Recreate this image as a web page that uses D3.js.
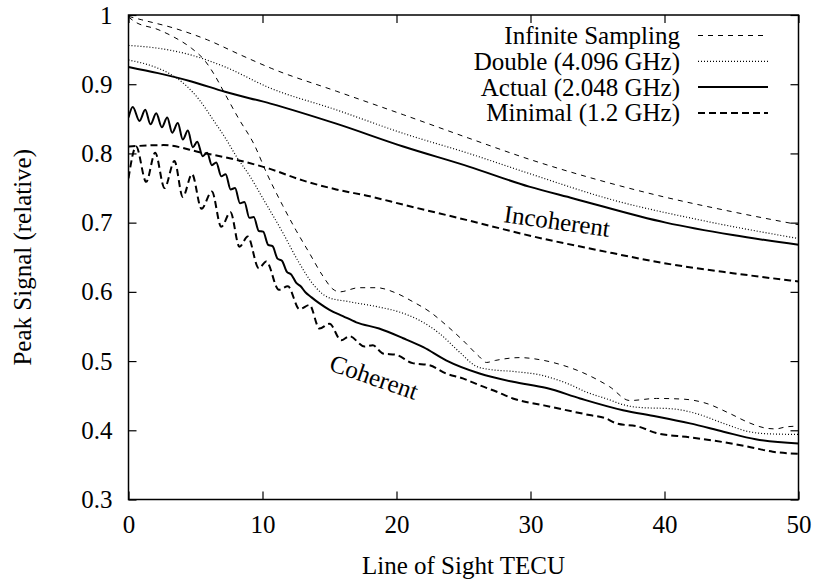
<!DOCTYPE html>
<html>
<head>
<meta charset="utf-8">
<script src="https://cdn.jsdelivr.net/npm/d3@7/dist/d3.min.js"></script>
</head>
<body style="margin:0;background:#fff">
<div id="chart"></div>
<script>

// ---- data: [TECU, peak signal] ----
const infiniteIncoherent = [[0,0.998],[1,0.993],[3.4,0.981],[5.9,0.964],[8.4,0.942],[10.65,0.923],[15.5,0.890],[20.5,0.856],[25.4,0.822],[30,0.791],[35,0.762],[40,0.737],[45,0.716],[50,0.697]];
const doubleIncoherent = [[0,0.956],[2.2,0.952],[4.7,0.942],[7.2,0.925],[10.5,0.895],[15.5,0.863],[20.5,0.829],[25.4,0.800],[29.9,0.771],[36.1,0.733],[42.6,0.704],[50,0.677]];
const actualIncoherent = [[0,0.925],[2.2,0.916],[4.7,0.904],[7.2,0.889],[10.6,0.872],[15.5,0.843],[20.5,0.810],[25.4,0.781],[29.9,0.752],[33.2,0.735],[40.1,0.700],[45.1,0.682],[50,0.668]];
const minimalIncoherent = [[0,0.810],[2.6,0.812],[5.5,0.801],[8,0.791],[10.5,0.778],[13,0.761],[15.5,0.748],[18,0.738],[20.5,0.726],[25.2,0.704],[30.2,0.680],[35.1,0.660],[40.1,0.641],[45.1,0.627],[50,0.615]];

const infiniteCoherent = [[0,0.997],[0.5,0.990],[2.2,0.979],[3.4,0.968],[4.7,0.952],[5.7,0.934],[6.4,0.914],[7.2,0.886],[8.2,0.851],[9.4,0.812],[10.3,0.772],[11.5,0.725],[12.5,0.689],[13.5,0.656],[14.5,0.623],[15.25,0.604],[15.75,0.600],[17.2,0.606],[18.5,0.606],[20,0.598],[21.2,0.586],[22.5,0.571],[23.7,0.552],[24.95,0.530],[26.2,0.506],[26.7,0.498],[27.4,0.501],[29.2,0.505],[30.7,0.502],[32.4,0.494],[33.7,0.485],[34.9,0.474],[35.9,0.463],[37.4,0.443],[39.4,0.446],[41.4,0.445],[43.1,0.439],[44.9,0.424],[46.3,0.411],[47.6,0.403],[48.3,0.402],[49.1,0.405],[50,0.406]];
const doubleCoherent = [[0,0.935],[1.8,0.926],[3.0,0.916],[4.3,0.898],[5.3,0.877],[6.3,0.849],[7.3,0.820],[8.1,0.794],[9.0,0.769],[10.0,0.736],[11.5,0.686],[12.7,0.643],[13.9,0.608],[14.9,0.592],[16.4,0.586],[18.7,0.578],[20.2,0.571],[21.7,0.559],[23.2,0.540],[24.7,0.513],[25.9,0.493],[26.9,0.488],[28.7,0.485],[30.7,0.480],[32.7,0.468],[34.2,0.455],[35.9,0.444],[36.9,0.437],[38.1,0.433],[40.6,0.431],[42.4,0.424],[44.4,0.410],[46.3,0.398],[47.6,0.395],[50,0.394]];
const actualCoherent = [[0,0.852],[0.32,0.867],[0.82,0.847],[1.25,0.863],[1.64,0.842],[2.07,0.858],[2.49,0.838],[2.89,0.852],[3.26,0.830],[3.68,0.844],[4.05,0.820],[4.43,0.833],[4.80,0.809],[5.13,0.817],[5.54,0.796],[5.87,0.801],[6.22,0.783],[6.55,0.787],[6.92,0.767],[7.25,0.770],[7.62,0.748],[7.95,0.750],[8.32,0.728],[8.65,0.730],[9.02,0.707],[9.35,0.708],[9.72,0.688],[10.05,0.687],[10.42,0.668],[10.75,0.666],[11.12,0.648],[11.45,0.645],[11.82,0.629],[12.15,0.625],[12.52,0.613],[12.85,0.608],[13.22,0.599],[13.6,0.593],[14.2,0.584],[15,0.574],[16,0.565],[17,0.556],[18.7,0.547],[20.5,0.533],[22,0.520],[23.7,0.501],[26.2,0.482],[28.7,0.470],[31.2,0.461],[33.7,0.446],[36.9,0.429],[39.4,0.420],[41.9,0.410],[44.4,0.398],[46.8,0.387],[50,0.381]];
const minimalCoherent = [[0,0.764],[0.57,0.810],[1.32,0.759],[1.99,0.801],[2.69,0.750],[3.43,0.789],[4.05,0.737],[4.74,0.770],[5.45,0.720],[6.22,0.745],[6.92,0.694],[7.61,0.715],[8.28,0.665],[8.9,0.680],[9.72,0.634],[10.28,0.644],[11.22,0.603],[11.89,0.608],[12.76,0.575],[13.51,0.581],[14.25,0.547],[15.0,0.554],[15.87,0.530],[16.49,0.536],[17.61,0.521],[18.23,0.523],[18.98,0.511],[19.98,0.509],[21.2,0.497],[22.46,0.494],[23.7,0.482],[24.95,0.475],[26.2,0.465],[27.44,0.456],[28.68,0.446],[31,0.436],[34.4,0.422],[35.65,0.417],[36.4,0.410],[38.13,0.405],[39.38,0.396],[41.87,0.390],[44.35,0.383],[46.34,0.376],[48.08,0.369],[50,0.366]];

const seriesNames = ["Infinite Sampling", "Double (4.096 GHz)", "Actual (2.048 GHz)", "Minimal (1.2 GHz)"];
const xTicks = [0, 10, 20, 30, 40, 50];
const yTicks = [0.3, 0.4, 0.5, 0.6, 0.7, 0.8, 0.9, 1];

// ---- layout ----
let svgWidth = 817, svgHeight = 580;
let margin = {top: 15, right: 18.5, bottom: 80.5, left: 128.5};
let fontSize = "25px";
let serif = '"Liberation Serif"';

let svg = d3.select("#chart").append("svg")
            .attr("width", svgWidth)
            .attr("height", svgHeight);

let xScale = d3.scaleLinear().domain([0, 50]).range([margin.left, svgWidth - margin.right]);
let yScale = d3.scaleLinear().domain([0.3, 1]).range([svgHeight - margin.bottom, margin.top]);

// line styles, same order as seriesNames
let styles = [
  {dash: "5,5", width: 1},
  {dash: "1,2", width: 1.2},
  {dash: null, width: 2},
  {dash: "7,4", width: 2}
];

// every text gets the Times-like face
function label(sel) {
  return sel.style("font-family", serif).style("font-size", fontSize).attr("fill", "#000");
}

// clip to the frame
svg.append("clipPath").attr("id", "plotClip")
   .append("rect")
   .attr("x", margin.left).attr("y", margin.top)
   .attr("width", xScale(50) - xScale(0))
   .attr("height", yScale(0.3) - yScale(1));

// axes: ticks point inward on all four sides
let tickLen = 8;
let xAxisB = d3.axisBottom(xScale).tickValues(xTicks).tickSize(-tickLen).tickPadding(16).tickFormat(d => d);
let yAxisL = d3.axisLeft(yScale).tickValues(yTicks).tickSize(-tickLen).tickPadding(16).tickFormat(d => d);
let xAxisT = d3.axisTop(xScale).tickValues(xTicks).tickSize(-tickLen).tickFormat("");
let yAxisR = d3.axisRight(yScale).tickValues(yTicks).tickSize(-tickLen).tickFormat("");

function styleAxis(g) {
  g.select(".domain").remove();
  g.selectAll(".tick line").attr("stroke", "#000").attr("stroke-width", 1.2);
  g.selectAll(".tick text").call(label);
}

svg.append("g").attr("transform", `translate(0,${yScale(0.3)})`).call(xAxisB).call(styleAxis);
svg.append("g").attr("transform", `translate(${xScale(0)},0)`).call(yAxisL).call(styleAxis);
svg.append("g").attr("transform", `translate(0,${yScale(1)})`).call(xAxisT).call(styleAxis);
svg.append("g").attr("transform", `translate(${xScale(50)},0)`).call(yAxisR).call(styleAxis);

// curves
let line = d3.line()
             .x(d => xScale(d[0]))
             .y(d => yScale(d[1]))
             .curve(d3.curveMonotoneX);

let coherentSets = [infiniteCoherent, doubleCoherent, actualCoherent, minimalCoherent];
let incoherentSets = [infiniteIncoherent, doubleIncoherent, actualIncoherent, minimalIncoherent];

let curves = svg.append("g").attr("clip-path", "url(#plotClip)");
seriesNames.forEach((name, i) => {
  [incoherentSets[i], coherentSets[i]].forEach(data => {
    curves.append("path")
          .datum(data)
          .attr("d", line)
          .attr("fill", "none")
          .attr("stroke", "#000")
          .attr("stroke-width", styles[i].width)
          .attr("stroke-dasharray", styles[i].dash);
  });
});

// frame
svg.append("rect")
   .attr("x", xScale(0)).attr("y", yScale(1))
   .attr("width", xScale(50) - xScale(0))
   .attr("height", yScale(0.3) - yScale(1))
   .attr("fill", "none")
   .attr("stroke", "#000")
   .attr("stroke-width", 1.5);

// legend
let legend = svg.append("g");
seriesNames.forEach((name, i) => {
  let yPos = 35.5 + i * 25.8;
  legend.append("text")
        .attr("x", 680).attr("y", yPos + 8.5)
        .attr("text-anchor", "end")
        .call(label)
        .text(name);
  legend.append("line")
        .attr("x1", 698).attr("x2", 768)
        .attr("y1", yPos).attr("y2", yPos)
        .attr("stroke", "#000")
        .attr("stroke-width", styles[i].width)
        .attr("stroke-dasharray", styles[i].dash);
});

// curve labels
svg.append("text")
   .attr("transform", "translate(557,221) rotate(8)")
   .attr("text-anchor", "middle").attr("dominant-baseline", "central")
   .call(label)
   .text("Incoherent");
svg.append("text")
   .attr("transform", "translate(374,377) rotate(19)")
   .attr("text-anchor", "middle").attr("dominant-baseline", "central")
   .call(label)
   .text("Coherent");

// axis titles
svg.append("text")
   .attr("x", (xScale(0) + xScale(50)) / 2).attr("y", 565)
   .attr("text-anchor", "middle").attr("dominant-baseline", "central")
   .call(label)
   .text("Line of Sight TECU");
svg.append("text")
   .attr("transform", `translate(22,${(yScale(0.3) + yScale(1)) / 2}) rotate(-90)`)
   .attr("text-anchor", "middle").attr("dominant-baseline", "central")
   .call(label)
   .text("Peak Signal (relative)");

</script>
</body>
</html>
